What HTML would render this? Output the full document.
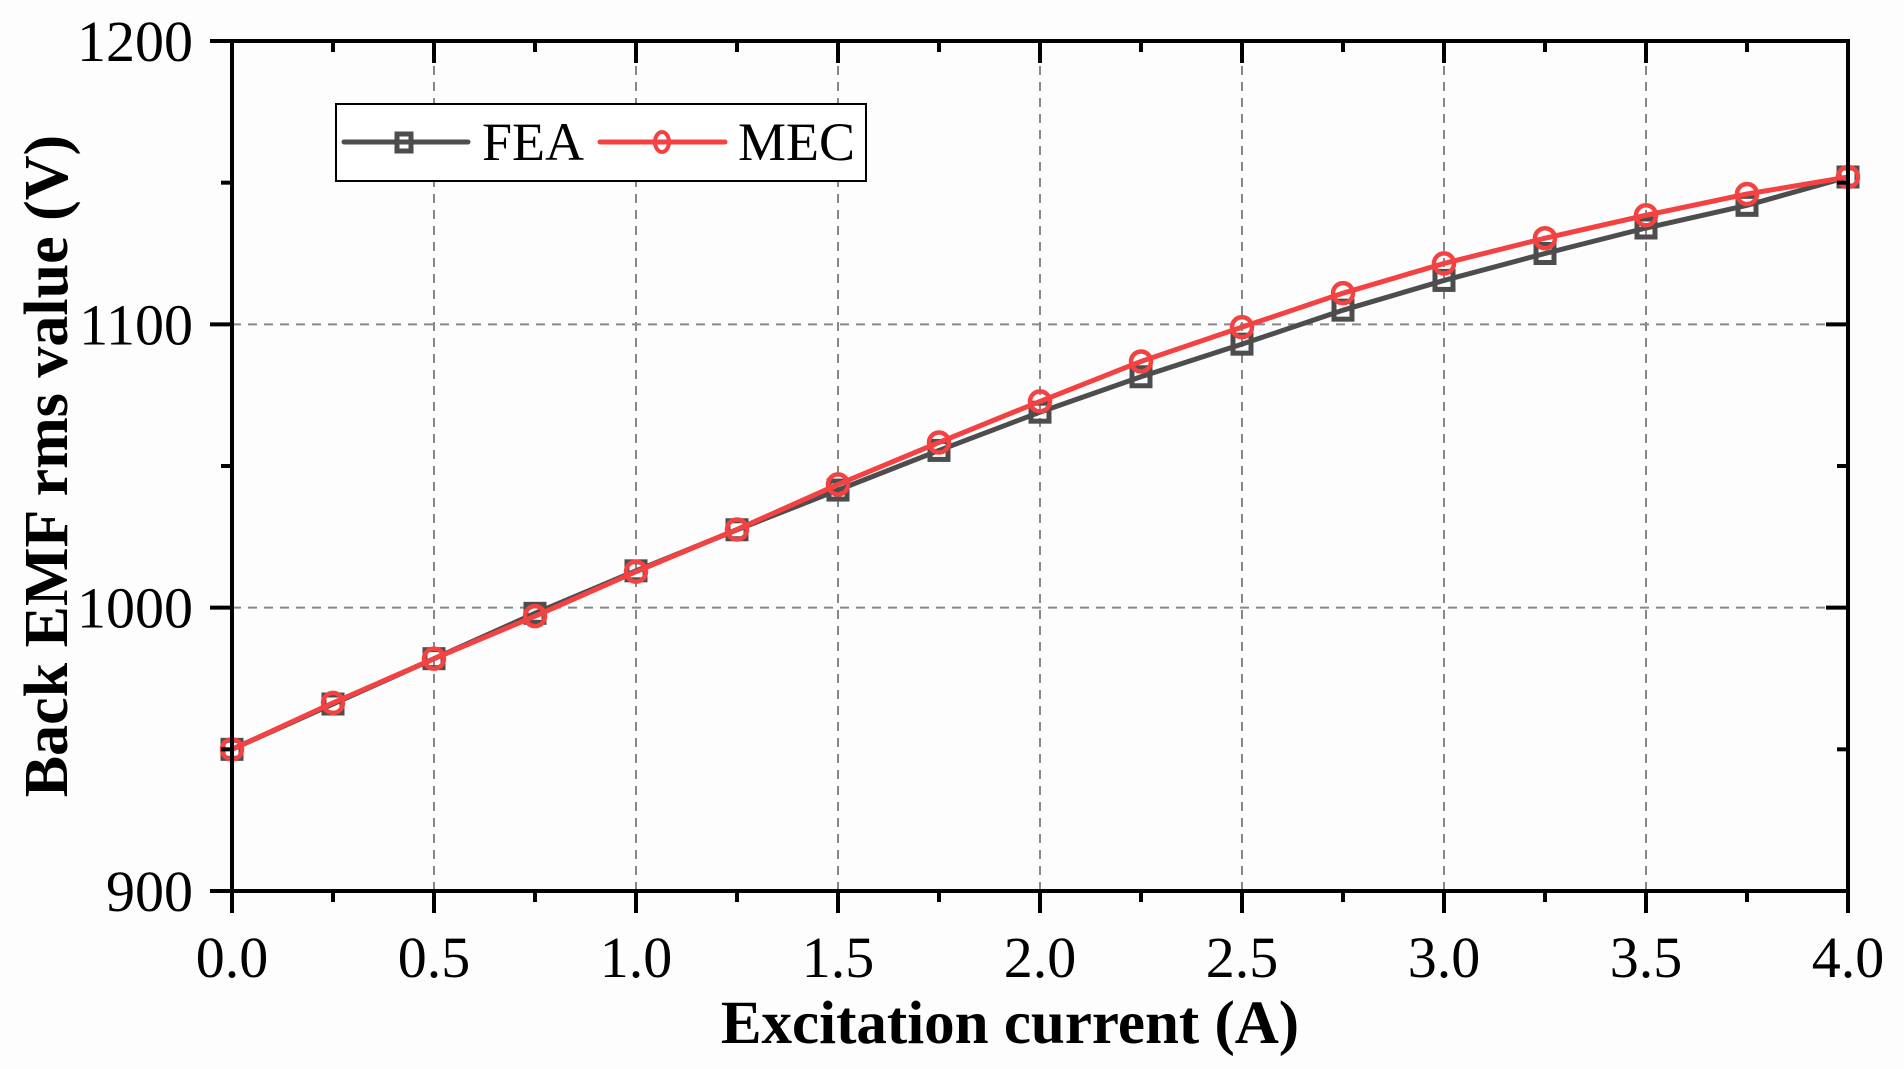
<!DOCTYPE html>
<html><head><meta charset="utf-8"><style>
html,body{margin:0;padding:0;background:#fdfdfd;}
svg{display:block;}
text{font-family:"Liberation Serif",serif;fill:#000;}
</style></head><body>
<svg id="chart" width="1904" height="1069" viewBox="0 0 1904 1069" xmlns="http://www.w3.org/2000/svg">
<rect x="0" y="0" width="1904" height="1069" fill="#fdfdfd"/>
<g id="grid"></g>
<g id="series"></g>
<g id="axes"></g>
<text x="1010" y="1043" font-size="61" font-weight="bold" text-anchor="middle">Excitation current (A)</text>
<text transform="translate(67,466) rotate(-90)" font-size="62" font-weight="bold" text-anchor="middle">Back EMF rms value (V)</text>
<g>
<rect x="336" y="104" width="530" height="77" fill="#fff" stroke="#000" stroke-width="2"/>
<g>
<line x1="344" y1="142" x2="468" y2="142" stroke="#4d4d4d" stroke-width="5" stroke-linecap="round"/>
<rect x="397" y="134" width="14" height="17" fill="none" stroke="#4d4d4d" stroke-width="5"/>
<text x="482" y="160" font-size="54">FEA</text>
</g>
<g>
<line x1="600" y1="142" x2="725" y2="142" stroke="#f44242" stroke-width="5" stroke-linecap="round"/>
<ellipse cx="662" cy="142" rx="7" ry="10" fill="none" stroke="#f44242" stroke-width="4"/>
<text x="738" y="160" font-size="54">MEC</text>
</g>
</g>
</svg>
<script>
const xValues = [0,0.25,0.5,0.75,1.0,1.25,1.5,1.75,2.0,2.25,2.5,2.75,3.0,3.25,3.5,3.75,4.0];
const feaValues = [950,966,982,998,1013,1027.5,1041.5,1055.5,1069,1081.5,1093,1105,1115.5,1125,1134,1142,1152];
const mecValues = [950,966.4,982,997,1012.7,1027.6,1043.5,1058.3,1072.8,1086.9,1099,1111,1121.5,1130.4,1138.5,1146,1152];
const xTicks = [0,0.5,1.0,1.5,2.0,2.5,3.0,3.5,4.0];
const xTickLabels = ["0.0","0.5","1.0","1.5","2.0","2.5","3.0","3.5","4.0"];
const yTicks = [900,1000,1100,1200];
const yTickLabels = ["900","1000","1100","1200"];

const X0=232,X1=1848,Y0=891,Y1=41;
const xMin=0,xMax=4,yMin=900,yMax=1200;
const sx=v=>X0+(v-xMin)/(xMax-xMin)*(X1-X0);
const sy=v=>Y0-(v-yMin)/(yMax-yMin)*(Y0-Y1);
const NS="http://www.w3.org/2000/svg";
function mk(tag,attrs,parent){const e=document.createElementNS(NS,tag);for(const k in attrs)e.setAttribute(k,attrs[k]);parent.appendChild(e);return e;}
const grid=document.getElementById('grid'),axes=document.getElementById('axes'),series=document.getElementById('series');

xTicks.forEach((t,i)=>{
  if(t>xMin&&t<xMax){
    const g=mk('line',{x1:sx(t),x2:sx(t),y1:Y0,y2:Y1,stroke:'#888',"stroke-width":2,"stroke-dasharray":"9,7"},grid);
    
    
  }
  const tk=mk('line',{x1:sx(t),x2:sx(t),y1:Y0,y2:Y0+22,stroke:'#000',"stroke-width":4},axes);
  
  
  const tt=mk('line',{x1:sx(t),x2:sx(t),y1:Y1,y2:Y1+22,stroke:'#000',"stroke-width":4},axes);
  
  
  const lb=mk('text',{x:sx(t),y:977,"font-size":58,"text-anchor":"middle"},axes);
  lb.textContent=xTickLabels[i];
  
  
  if(i<xTicks.length-1){
    const m=(t+xTicks[i+1])/2;
    const mb=mk('line',{x1:sx(m),x2:sx(m),y1:Y0,y2:Y0+11,stroke:'#000',"stroke-width":4},axes);
    
    
    const mt=mk('line',{x1:sx(m),x2:sx(m),y1:Y1,y2:Y1+11,stroke:'#000',"stroke-width":4},axes);
    
    
  }
});
yTicks.forEach((t,i)=>{
  if(t>yMin&&t<yMax){
    const g=mk('line',{x1:X0,x2:X1,y1:sy(t),y2:sy(t),stroke:'#888',"stroke-width":2,"stroke-dasharray":"9,7"},grid);
    
    
  }
  const tk=mk('line',{x1:X0-22,x2:X0,y1:sy(t),y2:sy(t),stroke:'#000',"stroke-width":4},axes);
  
  
  const tr=mk('line',{x1:X1-22,x2:X1,y1:sy(t),y2:sy(t),stroke:'#000',"stroke-width":4},axes);
  
  
  const lb=mk('text',{x:193,y:sy(t)+20,"font-size":58,"text-anchor":"end"},axes);
  lb.textContent=yTickLabels[i];
  
  
  if(i<yTicks.length-1){
    const m=(t+yTicks[i+1])/2;
    const ml=mk('line',{x1:X0-11,x2:X0,y1:sy(m),y2:sy(m),stroke:'#000',"stroke-width":4},axes);
    
    
    const mr=mk('line',{x1:X1-11,x2:X1,y1:sy(m),y2:sy(m),stroke:'#000',"stroke-width":4},axes);
    
    
  }
});
const frame=mk('rect',{x:X0,y:Y1,width:X1-X0,height:Y0-Y1,fill:'none',stroke:'#000',"stroke-width":4},axes);



function drawSeries(vals,color,name,marker){
  const pts=xValues.map((x,i)=>sx(x)+','+sy(vals[i])).join(' ');
  const pl=mk('polyline',{points:pts,fill:'none',stroke:color,"stroke-width":5,"stroke-linejoin":"round"},series);
  
  
  xValues.forEach((x,i)=>{
    let m;
    if(marker==='square'){
      m=mk('rect',{x:sx(x)-9,y:sy(vals[i])-9,width:18,height:18,fill:'none',stroke:color,"stroke-width":5},series);
    }else{
      m=mk('circle',{cx:sx(x),cy:sy(vals[i]),r:10,fill:'none',stroke:color,"stroke-width":4.5},series);
    }
    
    
  });
}
drawSeries(feaValues,'#4d4d4d','fea','square');
drawSeries(mecValues,'#f44242','mec','circle');
</script>
</body></html>
